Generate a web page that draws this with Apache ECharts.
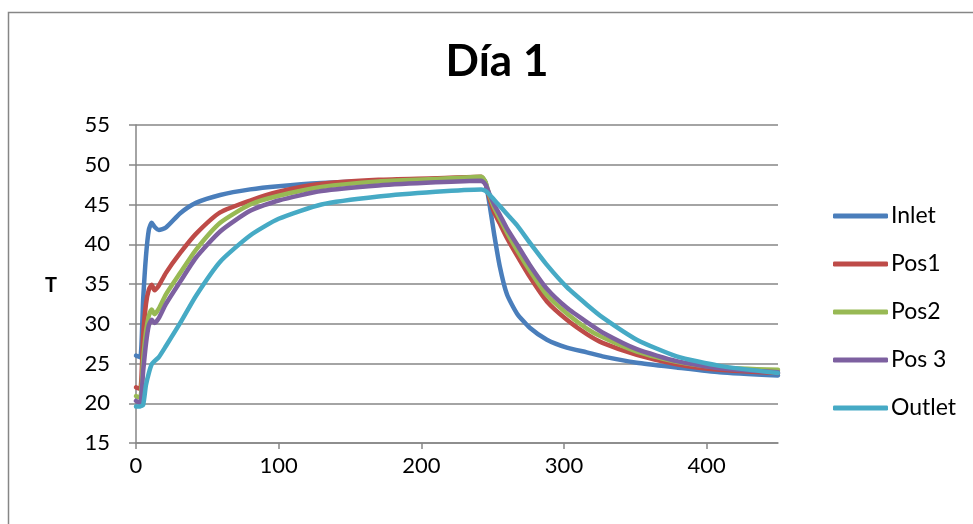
<!DOCTYPE html>
<html>
<head>
<meta charset="utf-8">
<script src="https://cdn.jsdelivr.net/npm/echarts@6/dist/echarts.min.js"></script>
<style>
html,body{margin:0;padding:0;background:#fff;}
#chart{width:973px;height:524px;}
</style>
</head>
<body>
<div id="chart"></div>
<script>
var titleText = 'Día 1';
var yAxisName = 'T';
var seriesNames = ['Inlet', 'Pos1', 'Pos2', 'Pos 3', 'Outlet'];
var seriesColors = ['#4A7EBB', '#BE4B48', '#98B954', '#7D60A0', '#46AAC5'];

var times = [0, 3, 5, 7, 9, 11, 13, 16, 21, 31, 42, 59, 80, 100, 130, 170, 210,
             242, 245, 248, 251, 255, 260, 267, 276, 288, 302, 316, 327, 351, 379, 409, 450];

var inlet = [26.0, 25.8, 33.0, 38.5, 41.8, 42.7, 42.2, 41.8, 42.1, 43.9, 45.2, 46.2, 46.9, 47.3, 47.7, 48.0, 48.2,
             48.4, 47.8, 44.8, 41.3, 37.2, 33.7, 31.3, 29.5, 28.0, 27.0, 26.4, 25.9, 25.1, 24.5, 23.9, 23.5];
var pos1  = [22.0, 21.8, 28.5, 32.5, 34.3, 34.9, 34.2, 34.8, 36.4, 38.9, 41.3, 44.0, 45.5, 46.6, 47.6, 48.1, 48.3,
             48.5, 47.6, 45.6, 44.0, 42.6, 40.8, 38.6, 35.9, 32.8, 30.5, 28.7, 27.6, 26.1, 24.9, 24.2, 23.8];
var pos2  = [20.9, 20.7, 25.5, 29.0, 31.0, 31.8, 31.2, 31.9, 33.7, 36.4, 39.3, 42.7, 45.0, 46.1, 47.2, 47.9, 48.2,
             48.5, 47.8, 46.0, 44.6, 43.2, 41.5, 39.3, 36.7, 33.6, 31.3, 29.4, 28.3, 26.5, 25.2, 24.5, 24.2];
var pos3  = [20.3, 20.0, 24.0, 27.5, 29.8, 30.5, 30.1, 30.7, 32.5, 35.3, 38.3, 41.6, 44.2, 45.5, 46.7, 47.4, 47.8,
             48.0, 47.5, 46.2, 45.0, 43.7, 42.0, 40.0, 37.4, 34.4, 32.0, 30.2, 28.9, 26.8, 25.3, 24.4, 23.9];
var outlet= [19.6, 19.6, 19.8, 22.3, 23.8, 24.9, 25.3, 25.8, 27.2, 30.1, 33.5, 37.8, 41.1, 43.2, 45.0, 46.0, 46.6,
             46.9, 46.7, 46.2, 45.6, 44.8, 43.8, 42.4, 40.2, 37.4, 34.6, 32.4, 30.8, 28.0, 25.9, 24.7, 23.8];

var allValues = [inlet, pos1, pos2, pos3, outlet];

var FONT = 'Lato, "Open Sans", sans-serif';
var chart = echarts.init(document.getElementById('chart'), null, {renderer: 'canvas'});

var series = seriesNames.map(function (name, i) {
  return {
    name: name,
    type: 'line',
    data: times.map(function (t, k) { return [t, allValues[i][k]]; }),
    showSymbol: false,
    symbol: 'none',
    smooth: 0.2,
    lineStyle: {width: 4.5, color: seriesColors[i], cap: 'round', join: 'round'},
    itemStyle: {color: seriesColors[i]},
    z: 2 + i,
    animation: false
  };
});

chart.setOption({
  animation: false,
  backgroundColor: '#ffffff',
  title: {
    text: titleText,
    left: 497,
    top: 40,
    textAlign: 'center',
    padding: 0,
    textStyle: {fontFamily: FONT, fontWeight: 'bold', fontSize: 44, color: '#000'}
  },
  graphic: [
    {type: 'polyline', shape: {points: [[8.5, 524], [8.5, 12.5], [973, 12.5]]},
     style: {stroke: '#868686', lineWidth: 1.5, fill: null}, silent: true},
    {type: 'text', left: 45, top: 276,
     style: {text: yAxisName, fontFamily: FONT, fontWeight: 'bold', fontSize: 20, fill: '#000'}}
  ],
  legend: {
    orient: 'vertical',
    left: 833,
    top: 204,
    padding: 0,
    itemWidth: 55,
    itemHeight: 5,
    itemGap: 24,
    icon: 'roundRect',
    data: seriesNames,
    textStyle: {fontFamily: FONT, fontSize: 23, lineHeight: 24, color: '#000', padding: [0, 0, 0, -2]}
  },
  grid: {left: 136, right: 195, top: 125, bottom: 81, containLabel: false},
  xAxis: {
    type: 'value',
    min: 0, max: 450, interval: 100,
    axisLine: {show: true, lineStyle: {color: '#868686', width: 1.5}},
    axisTick: {show: true, length: 6, lineStyle: {color: '#868686', width: 1.5}},
    axisLabel: {fontFamily: FONT, fontSize: 22, color: '#000', margin: 12, showMaxLabel: false},
    splitLine: {show: false}
  },
  yAxis: {
    type: 'value',
    min: 15, max: 55, interval: 5,
    axisLine: {show: true, lineStyle: {color: '#868686', width: 1.5}},
    axisTick: {show: true, length: 7, lineStyle: {color: '#868686', width: 1.5}},
    axisLabel: {fontFamily: FONT, fontSize: 22, color: '#000', margin: 26},
    splitLine: {show: true, lineStyle: {color: '#868686', width: 1.5}}
  },
  series: series
});
</script>
</body>
</html>
